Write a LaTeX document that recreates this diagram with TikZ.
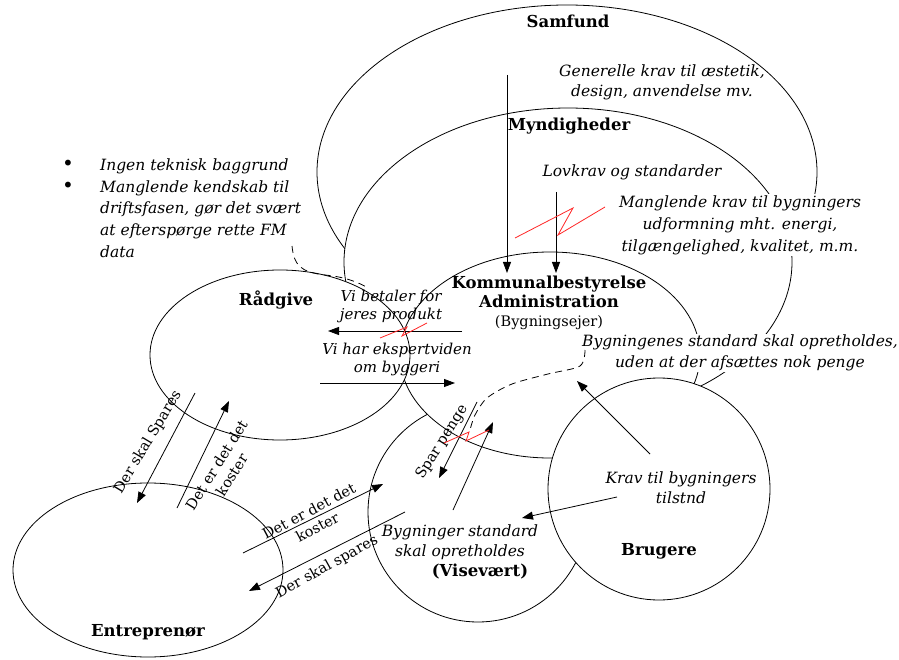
\documentclass[tikz,border=0pt]{standalone}
\usepackage{fontspec}
\setmainfont{DejaVu Serif}
\usetikzlibrary{arrows.meta}

\begin{document}
\begin{tikzpicture}[x=1pt,y=-1pt,
  outline/.style={draw=black, fill=white, line width=0.8pt},
  conn/.style={draw=black, line width=0.8pt, -{Triangle[length=11pt,width=8pt]}},
  zig/.style={draw=red!85!white, line width=0.8pt},
  dashline/.style={draw=black, line width=0.8pt, dash pattern=on 7pt off 5pt},
  bname/.style={font=\bfseries\fontsize{16.5}{19}\selectfont, inner sep=0pt, align=center},
  note/.style={font=\itshape\fontsize{15.5}{20}\selectfont, align=center, inner sep=1pt},
  wnote/.style={note, fill=white},
  turned/.style={font=\fontsize{14.5}{18}\selectfont, align=center, inner sep=0pt},
  dot/.style={font=\fontsize{20}{20}\selectfont, inner sep=0pt},
]
\useasboundingbox[fill=white] (0,0) rectangle (899,660);

% actors, painted back to front
\path[outline] (567,172) ellipse [x radius=250pt, y radius=167pt]; % Samfund
\path[outline] (568,262) ellipse [x radius=224pt, y radius=154pt]; % Myndigheder
\path[outline] (478,512) circle [radius=110pt];                    % Visevært
\path[outline] (550,355) ellipse [x radius=150pt, y radius=103pt]; % Kommunalbestyrelse
\path[outline] (280,355) ellipse [x radius=130pt, y radius=85pt];  % Rådgive
\path[outline] (659,489) circle [radius=111pt];                    % Brugere
\path[outline] (148,570) ellipse [x radius=135pt, y radius=87pt];  % Entreprenør

% labels
\node[bname] (samfund) at (568,21) {Samfund};
\node[note] (generelle) at (662,82) {Generelle krav til æstetik,\\design, anvendelse mv.};
\node[bname] (myndigheder) at (569,126) {Myndigheder};
\node[note] (lovkrav) at (632,172) {Lovkrav og standarder};
\node[wnote, font=\itshape\fontsize{15.5}{22}\selectfont] (mangel) at (740,225)
  {Manglende krav til bygningers\\udformning mht. energi,\\tilgængelighed, kvalitet, m.m.};
\node[bname] (kommunal) at (549,292) {Kommunalbestyrelse\\Administration};
\node[turned] (ejer) at (549,323) {(Bygningsejer)};
\node[wnote, font=\itshape\fontsize{15.5}{21}\selectfont] (standard) at (740,353)
  {Bygningenes standard skal opretholdes,\\uden at der afsættes nok penge};
\node[bname] (raadgive) at (276,300) {Rådgive};
\node[note, font=\itshape\fontsize{15}{18}\selectfont] (betaler) at (391,306) {Vi betaler for\\jeres produkt};
\node[note, font=\itshape\fontsize{15}{18}\selectfont] (ekspert) at (397,359) {Vi har ekspertviden\\om byggeri};

\node[dot] (bul1) at (68,165) {•};
\node[dot] (bul2) at (68,187) {•};
\node[note, align=left, anchor=west, font=\itshape\fontsize{15.5}{21.7}\selectfont] (baggrund) at (99,208)
  {Ingen teknisk baggrund\\Manglende kendskab til\\driftsfasen, gør det svært\\at efterspørge rette FM\\data};

\node[turned, rotate=59] (spares1) at (148,442) {Der skal Spares};
\node[turned, rotate=58] (koster1) at (224,470) {Det er det det\\koster};
\node[turned, rotate=28] (koster2) at (313,519) {Det er det det\\koster};
\node[turned, rotate=29] (spares2) at (327,567) {Der skal spares};
\node[turned, rotate=58] (spar) at (442,442) {Spar penge};

\node[note] (bygstd) at (460,542) {Bygninger standard\\skal opretholdes};
\node[bname] (vise) at (480,572) {(Visevært)};
\node[note] (kravtil) at (681,488) {Krav til bygningers\\tilstnd};
\node[bname] (brugere) at (659,551) {Brugere};
\node[bname] (entre) at (148,632) {Entreprenør};

% boundaries of the owner's reach
\draw[dashline] (292,246) .. controls (294,265) and (300,272) .. (325,275)
  .. controls (345,277) and (358,282) .. (368,288);
\draw[dashline] plot[smooth] coordinates {(585,350) (580,366) (548,374) (512,384) (487,398) (475,415) (470,430)};

% connector ends
\coordinate (s1) at (507,75);   \coordinate (s2) at (507,273);
\coordinate (m1) at (556,192);  \coordinate (m2) at (556,273);
\coordinate (vb1) at (462,331); \coordinate (vb2) at (328,331);
\coordinate (ve1) at (320,383); \coordinate (ve2) at (455,383);
\coordinate (ds1) at (195,393); \coordinate (ds2) at (137,503);
\coordinate (dk1) at (177,508); \coordinate (dk2) at (229,401);
\coordinate (dk3) at (243,553); \coordinate (dk4) at (383,484);
\coordinate (dp1) at (405,512); \coordinate (dp2) at (249,591);
\coordinate (sp1) at (477,402); \coordinate (sp2) at (439,478);
\coordinate (vk1) at (453,510); \coordinate (vk2) at (493,422);
\coordinate (kb1) at (617,497); \coordinate (kb2) at (522,518);
\coordinate (bk1) at (650,454); \coordinate (bk2) at (577,381);

\draw[conn] (s1) -- (s2);
\draw[conn] (m1) -- (m2);
\draw[conn] (vb1) -- (vb2);
\draw[conn] (ve1) -- (ve2);
\draw[conn] (ds1) -- (ds2);
\draw[conn] (dk1) -- (dk2);
\draw[conn] (dk3) -- (dk4);
\draw[conn] (dp1) -- (dp2);
\draw[conn] (sp1) -- (sp2);
\draw[conn] (vk1) -- (vk2);
\draw[conn] (kb1) -- (kb2);
\draw[conn] (bk1) -- (bk2);

% conflict marks
\draw[zig] (515,238) -- (573,208) -- (558,235) -- (605,207);
\draw[zig] (380,338) -- (407,327) -- (402,336) -- (427,323);
\draw[zig] (444,443) -- (469,432) -- (466,441) -- (489,430);
\end{tikzpicture}
\end{document}
